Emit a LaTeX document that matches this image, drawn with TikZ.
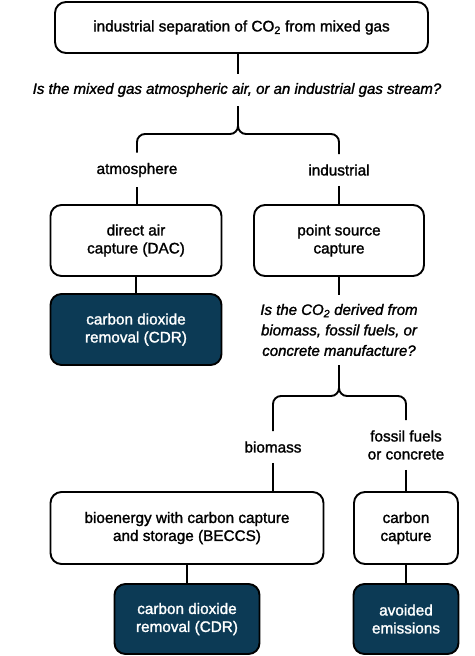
\documentclass[tikz,border=0pt]{standalone}
\usepackage{fontspec}
\setmainfont{Liberation Sans}[FakeBold=1.5]
\usetikzlibrary{positioning}
\definecolor{navy}{RGB}{12,58,85}

\begin{document}
\begin{tikzpicture}[x=1pt,y=-1pt,
	box/.style={draw, line width=1.9pt, rounded corners=11pt, align=center, inner sep=0pt, font=\fontsize{15.3}{18}\selectfont},
	result/.style={box, fill=navy, text=white},
	ask/.style={align=center, inner xsep=0pt, inner ysep=9pt, font=\fontsize{15}{20.5}\selectfont\itshape},
	branch/.style={align=center, inner xsep=0pt, inner ysep=10pt, font=\fontsize{15.3}{18}\selectfont},
	link/.style={line width=1.9pt}]
	\useasboundingbox (0,0) rectangle (474,656);

	% first question
	\node[box, minimum width=373pt, minimum height=51pt] (top) at (241.5,27.5) {industrial separation of CO\textsubscript{2} from mixed gas};
	\node[ask] (q1) at (237,90) {Is the mixed gas atmospheric air, or an industrial gas stream?};
	\coordinate (fork1) at (238,134);

	\node[branch] (atm) at (137,170) {atmosphere};
	\node[branch] (ind) at (339,170) {industrial};

	\node[box, minimum width=171pt, minimum height=71pt] (dac) at (136,240.5) {direct air\\capture (DAC)};
	\node[box, minimum width=170pt, minimum height=71pt] (pts) at (339,240.5) {point source\\capture};
	\node[result, minimum width=171pt, minimum height=71pt] (cdr1) at (136,329.5) {carbon dioxide\\removal (CDR)};

	% second question
	\node[ask] (q2) at (339,330) {Is the CO\textsubscript{2} derived from\\biomass, fossil fuels, or\\concrete manufacture?};
	\coordinate (fork2) at (339,396);

	\node[branch] (bio) at (273,447) {biomass};
	\node[branch] (fos) at (406,445) {fossil fuels\\or concrete};

	\node[box, minimum width=273pt, minimum height=72pt] (beccs) at (187,528) {bioenergy with carbon capture\\and storage (BECCS)};
	\node[box, minimum width=104pt, minimum height=72pt] (cc) at (406,528) {carbon\\capture};
	\node[result, minimum width=145pt, minimum height=70pt] (cdr2) at (187,619) {carbon dioxide\\removal (CDR)};
	\node[result, minimum width=105pt, minimum height=70pt] (avoid) at (406,619) {avoided\\emissions};

	\draw[link] (top.south -| fork1) -- (q1.north -| fork1);
	\draw[link, rounded corners=8pt] (q1.south -| fork1) -- (fork1) -| (atm.north);
	\draw[link, rounded corners=8pt] (q1.south -| fork1) -- (fork1) -| (ind.north);
	\draw[link] (atm.south) -- (atm.south |- dac.north);
	\draw[link] (ind.south) -- (pts.north);
	\draw[link] (dac.south) -- (cdr1.north);

	\draw[link] (pts.south) -- (q2.north);
	\draw[link, rounded corners=8pt] (q2.south) -- (fork2) -| (bio.north);
	\draw[link, rounded corners=8pt] (q2.south) -- (fork2) -| (fos.north);
	\draw[link] (bio.south) -- (bio.south |- beccs.north);
	\draw[link] (fos.south) -- (cc.north);
	\draw[link] (beccs.south) -- (cdr2.north);
	\draw[link] (cc.south) -- (avoid.north);
\end{tikzpicture}
\end{document}
